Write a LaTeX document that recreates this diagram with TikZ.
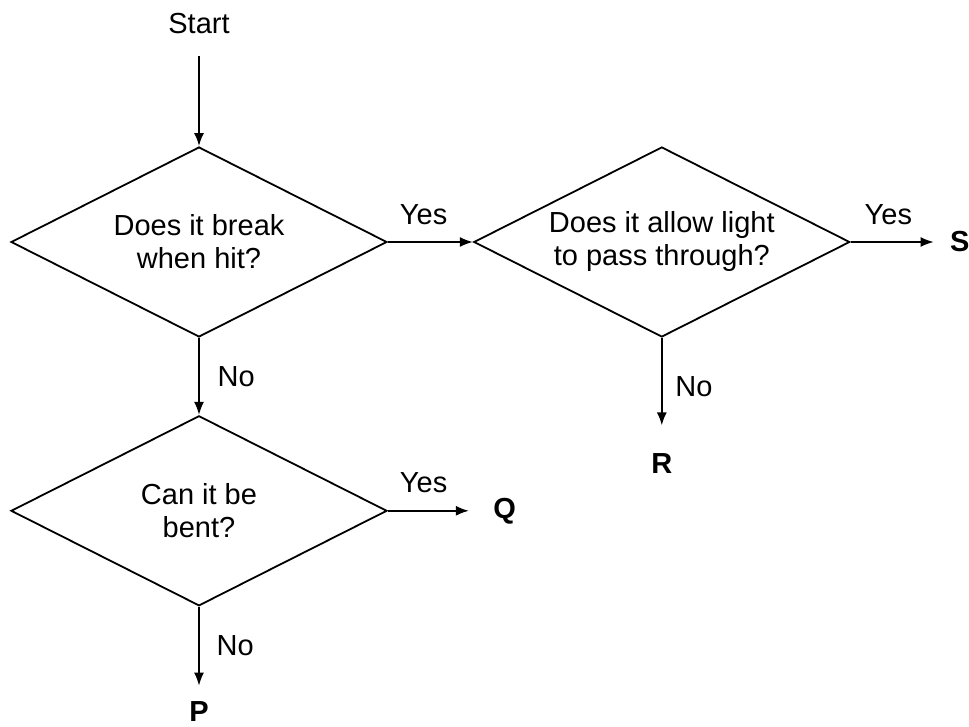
\documentclass[tikz,border=0pt]{standalone}
\usepackage{fontspec}
\setmainfont{Liberation Sans}
\usetikzlibrary{arrows.meta,positioning,shapes.geometric}

\begin{document}
\begin{tikzpicture}[x=0.5pt,y=-0.5pt,
  question/.style={draw,diamond,aspect=2,align=center,inner sep=0pt,line width=0.9pt,
              minimum width=188pt,minimum height=95pt,font=\fontsize{14.5}{16.5}\selectfont},
  result/.style={inner sep=0pt,font=\fontsize{14.5}{16.5}\selectfont\bfseries},
  lbl/.style={font=\fontsize{14.5}{16.5}\selectfont},
  edge/.style={-{Latex[length=6.5pt,width=5pt]},line width=0.9pt}]
\useasboundingbox (0,0) rectangle (969,727);
\node[question] (break) at (199,242) {Does it break\\when hit?};
\node[question,right=42.5pt of break] (light) {Does it allow light\\to pass through?};
\node[question,below=38.5pt of break] (bend) {Can it be\\bent?};
\node[lbl,inner sep=0pt,above=55.75pt of break] (start) {Start};
\node[result,right=49.5pt of light] (s) {S};
\node[result,below=57.5pt of light] (r) {R};
\node[result,right=52.5pt of bend] (q) {Q};
\node[result,below=47.25pt of bend] (p) {P};
\draw[edge,shorten <=10.75pt] (start)--(break);
\draw[edge] (break)-- node[lbl,pos=0.42,above=5pt] {Yes} (light);
\draw[edge,shorten >=8pt] (light)-- node[lbl,pos=0.38,above=5pt] {Yes} (s);
\draw[edge,shorten >=13.75pt] (light)-- node[lbl,pos=0.42,right=3pt] {No} (r);
\draw[edge] (break)-- node[lbl,right=5.5pt] {No} (bend);
\draw[edge,shorten >=12pt] (bend)-- node[lbl,pos=0.34,above=5pt] {Yes} (q);
\draw[edge,shorten >=7.75pt] (bend)-- node[lbl,pos=0.41,right=5pt] {No} (p);
\end{tikzpicture}
\end{document}
